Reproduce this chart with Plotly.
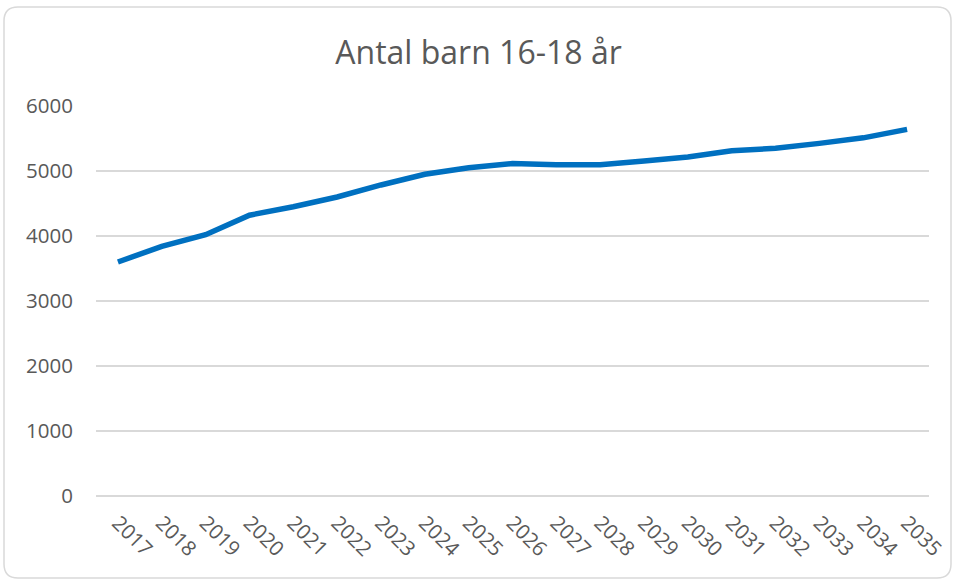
import plotly.graph_objects as go

years = [str(y) for y in range(2017, 2036)]
antal = [3600, 3840, 4020, 4320, 4450, 4600, 4785, 4950, 5050, 5115,
         5095, 5095, 5155, 5215, 5310, 5350, 5425, 5510, 5640]
y_ticks = [0, 1000, 2000, 3000, 4000, 5000, 6000]

fig = go.Figure()
fig.add_trace(go.Scatter(
    x=years, y=antal, mode="lines",
    line=dict(color="#0070C0", width=5.5),
    hoverinfo="x+y", showlegend=False,
))

L, R, T, B = 96, 28, 106, 85
W, H = 957, 581
pw, ph = W - L - R, H - T - B

def px(x):
    return (x - L) / pw

def py(y):
    return (H - B - y) / ph

x0, x1, y0, y1 = px(4), px(951), py(578), py(7)
rx, ry = 14 / pw, 14 / ph
path = (f"M {x0+rx},{y1} L {x1-rx},{y1} Q {x1},{y1} {x1},{y1-ry} "
        f"L {x1},{y0+ry} Q {x1},{y0} {x1-rx},{y0} L {x0+rx},{y0} "
        f"Q {x0},{y0} {x0},{y0+ry} L {x0},{y1-ry} Q {x0},{y1} {x0+rx},{y1} Z")

fig.update_layout(
    width=W, height=H,
    margin=dict(l=L, r=R, t=T, b=B, autoexpand=False),
    paper_bgcolor="white", plot_bgcolor="white",
    title=dict(text="Antal barn 16-18 år", x=0.5, xanchor="center",
               y=1 - 53 / H, yanchor="middle",
               font=dict(family="Open Sans", size=32, color="#595959")),
    font=dict(family="Open Sans", color="#595959", size=20.5),
    shapes=[dict(type="path", path=path, xref="paper", yref="paper",
                 line=dict(color="#D9D9D9", width=1.5), layer="below")],
    xaxis=dict(type="category", range=[-0.5, 18.5], showgrid=False,
               zeroline=False, showline=False, automargin=False,
               tickangle=45, tickfont=dict(size=20.5, color="#595959"),
               ticks="", ticklabelstandoff=10),
    yaxis=dict(range=[0, 6000], tickvals=y_ticks, showgrid=True,
               gridcolor="#D9D9D9", gridwidth=1.5, zeroline=True,
               zerolinecolor="#D9D9D9", zerolinewidth=1.5, showline=False,
               automargin=False,
               tickfont=dict(size=20.5, color="#595959"), ticks="",
               ticklabelstandoff=22),
)

fig.write_html("out.html", config={"displayModeBar": False},
               post_script="document.body.style.margin='0';")
